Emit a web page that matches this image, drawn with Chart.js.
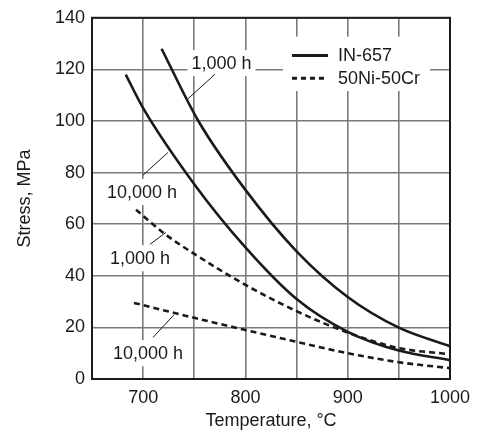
<!DOCTYPE html>
<html>
<head>
<meta charset="utf-8">
<script src="https://cdn.jsdelivr.net/npm/chart.js@4.4.1/dist/chart.umd.min.js"></script>
<style>
  html, body { margin: 0; padding: 0; background: #fff; }
</style>
</head>
<body>
<canvas id="chart" width="489" height="436"></canvas>
<script>
// values (temperature in degC, stress in MPa)
const in657_1000h_temp = [718, 754, 800, 850, 900, 950, 1000];
const in657_1000h_stress = [128, 100, 73.3, 49.5, 31.8, 19.9, 12.7];

const in657_10000h_temp = [683, 700, 750, 800, 850, 900, 950, 1000];
const in657_10000h_stress = [118, 105, 75.5, 51, 31, 18.3, 11, 7.3];

const nicr_1000h_temp = [693, 722, 750, 800, 850, 900, 950, 1000];
const nicr_1000h_stress = [65.6, 56, 48.5, 36.5, 26.3, 18, 12, 9.6];

const nicr_10000h_temp = [691, 750, 800, 850, 900, 950, 1000];
const nicr_10000h_stress = [29.5, 23.7, 19, 14.4, 10, 6.5, 4.2];

const legendLabels = ['IN-657', '50Ni-50Cr'];
const curveLabels = ['1,000 h', '10,000 h', '1,000 h', '10,000 h'];

const FONT = "'Liberation Sans', Arial, sans-serif";
const INK = '#1a1a1a';
const GRID = '#7a7a7a';

function points(temps, stress) {
    return temps.map((t, i) => ({ x: t, y: stress[i] }));
}

// text labels with white boxes and thin leader lines, placed in data units
const curveLabelPlugin = {
    id: 'curveLabels',
    beforeDatasetsDraw(chart, args, opts) {
        const { ctx, scales: { x, y } } = chart;
        ctx.save();
        ctx.font = `18px ${FONT}`;
        ctx.textAlign = 'center';
        ctx.textBaseline = 'middle';
        opts.items.forEach(item => {
            const px = x.getPixelForValue(item.x);
            const py = y.getPixelForValue(item.y);
            const w = ctx.measureText(item.text).width + 8;
            ctx.fillStyle = '#fff';
            ctx.fillRect(px - w / 2, py - 13, w, 26);
            ctx.fillStyle = INK;
            ctx.fillText(item.text, px, py + 1);
            const l = item.leader;
            ctx.strokeStyle = INK;
            ctx.lineWidth = 1;
            ctx.beginPath();
            ctx.moveTo(x.getPixelForValue(l[0]), y.getPixelForValue(l[1]));
            ctx.lineTo(x.getPixelForValue(l[2]), y.getPixelForValue(l[3]));
            ctx.stroke();
        });

        // legend inside the plot
        const lg = opts.legend;
        const bx0 = x.getPixelForValue(lg.box[0]), by0 = y.getPixelForValue(lg.box[1]);
        const bx1 = x.getPixelForValue(lg.box[2]), by1 = y.getPixelForValue(lg.box[3]);
        ctx.fillStyle = '#fff';
        ctx.fillRect(bx0, by0, bx1 - bx0, by1 - by0);
        ctx.textAlign = 'left';
        lg.rows.forEach((row, i) => {
            const ly = y.getPixelForValue(row.y);
            ctx.strokeStyle = INK;
            ctx.lineWidth = 3;
            ctx.setLineDash(row.dash);
            ctx.beginPath();
            ctx.moveTo(x.getPixelForValue(lg.lineFrom), ly);
            ctx.lineTo(x.getPixelForValue(lg.lineTo), ly);
            ctx.stroke();
            ctx.setLineDash([]);
            ctx.fillStyle = INK;
            ctx.fillText(legendLabels[i], x.getPixelForValue(lg.textAt), ly + 1);
        });
        ctx.restore();
    },
    afterDatasetsDraw(chart) {
        const { ctx, chartArea: a } = chart;
        ctx.save();
        ctx.strokeStyle = INK;
        ctx.lineWidth = 2;
        ctx.strokeRect(a.left, a.top, a.right - a.left, a.bottom - a.top);
        ctx.restore();
    }
};

Chart.defaults.font.family = FONT;
Chart.defaults.font.size = 18;
Chart.defaults.color = INK;

function curve(temps, stress, dashed) {
    return {
        data: points(temps, stress),
        borderColor: INK,
        borderWidth: 2.6,
        borderDash: dashed ? [6, 4] : [],
        pointRadius: 0,
        fill: false,
        cubicInterpolationMode: 'monotone'
    };
}

new Chart(document.getElementById('chart'), {
    type: 'line',
    data: {
        datasets: [
            curve(in657_1000h_temp, in657_1000h_stress, false),
            curve(in657_10000h_temp, in657_10000h_stress, false),
            curve(nicr_1000h_temp, nicr_1000h_stress, true),
            curve(nicr_10000h_temp, nicr_10000h_stress, true)
        ]
    },
    options: {
        responsive: false,
        animation: false,
        layout: { padding: { left: 14, top: 14, right: 39, bottom: 0 } },
        plugins: {
            legend: { display: false },
            tooltip: { enabled: false },
            curveLabels: {
                items: [
                    { text: curveLabels[0], x: 776.6, y: 122.4, leader: [743.8, 108.6, 770.2, 118.1] },
                    { text: curveLabels[1], x: 698.9, y: 72.5, leader: [699.9, 79, 724.3, 87.8] },
                    { text: curveLabels[2], x: 696.9, y: 46.8, leader: [706.7, 52.2, 722.3, 56.8] },
                    { text: curveLabels[3], x: 704.7, y: 10.0, leader: [709.6, 16.1, 730.2, 24.9] }
                ],
                legend: {
                    box: [836.7, 132.7, 980.4, 111.6],
                    lineFrom: 845.5, lineTo: 880.7, textAt: 890.5,
                    rows: [{ y: 125.4, dash: [] }, { y: 116.6, dash: [5, 4] }]
                }
            }
        },
        scales: {
            x: {
                type: 'linear',
                min: 650,
                max: 1000,
                afterFit: (s) => { s.height = 57; },
                ticks: {
                    stepSize: 50,
                    autoSkip: false,
                    maxRotation: 0,
                    padding: 8,
                    callback: (v) => (v % 100 === 0 ? String(v) : '')
                },
                grid: { color: GRID, lineWidth: 1.6, drawTicks: false },
                border: { display: false },
                title: { display: true, text: 'Temperature, °C', padding: { top: 4, bottom: 4 } }
            },
            y: {
                min: 0,
                max: 140,
                afterFit: (s) => { s.width = 78; },
                ticks: { stepSize: 20, padding: 7 },
                grid: { color: GRID, lineWidth: 1.6, drawTicks: false },
                border: { display: false },
                title: { display: true, text: 'Stress, MPa', padding: { top: 0, bottom: 0 } }
            }
        }
    },
    plugins: [curveLabelPlugin]
});
</script>
</body>
</html>
